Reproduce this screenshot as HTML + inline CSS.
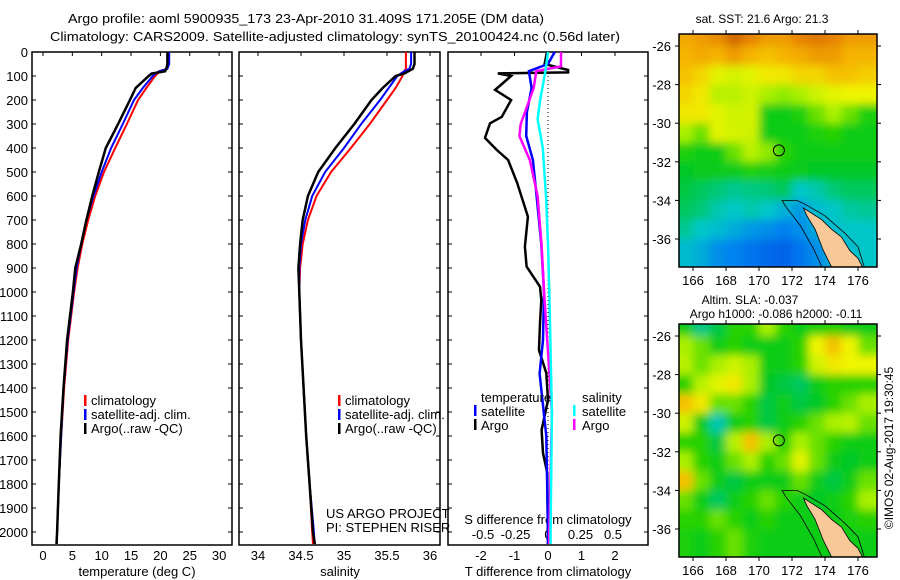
<!DOCTYPE html>
<html><head><meta charset="utf-8"><style>
body{margin:0;background:#fff}
svg{display:block;font-family:"Liberation Sans",sans-serif}
text{fill:#000}
</style></head><body>
<svg id="fig" width="900" height="580" viewBox="0 0 900 580" xmlns="http://www.w3.org/2000/svg">
<defs>
<filter id="blur" x="-0.1" y="-0.1" width="1.2" height="1.2"><feGaussianBlur stdDeviation="4.5" edgeMode="duplicate"/></filter>
<clipPath id="clipTop"><rect x="679" y="34" width="198" height="233"/></clipPath>
<clipPath id="clipBot"><rect x="679" y="324" width="198" height="233"/></clipPath>
</defs>
<text x="306" y="23" text-anchor="middle" font-size="13" textLength="476" lengthAdjust="spacingAndGlyphs">Argo profile: aoml 5900935_173 23-Apr-2010 31.409S 171.205E (DM data)</text>
<text x="335" y="41" text-anchor="middle" font-size="13" textLength="570" lengthAdjust="spacingAndGlyphs">Climatology: CARS2009. Satellite-adjusted climatology: synTS_20100424.nc (0.56d later)</text>
<g id="plots"></g>
</svg>
<script>
// ---- data ----
const depthGrid=[0,50,70,80,90,100,150,200,300,400,500,600,700,800,900,1000,1200,1400,1600,1800,2000,2050];
const tempClim=[21.3,21.3,21.0,20.0,19.5,19.1,17.6,16.2,14.3,12.3,10.4,8.9,7.7,6.7,5.9,5.3,4.3,3.6,3.1,2.7,2.4,2.35];
const tempSat=[21.5,21.5,21.2,19.8,19.2,18.7,17.0,15.5,13.6,11.6,10.0,8.6,7.4,6.5,5.7,5.2,4.2,3.5,3.1,2.7,2.4,2.35];
const tempArgo=[21.2,21.2,21.0,20.8,18.5,18.0,15.8,14.8,12.8,10.7,9.5,8.4,7.4,6.5,5.5,5.1,4.1,3.5,3.0,2.7,2.4,2.3];
const salClim=[35.72,35.72,35.72,35.7,35.69,35.68,35.6,35.5,35.3,35.08,34.85,34.68,34.58,34.52,34.49,34.48,34.5,34.53,34.56,34.6,34.63,34.64];
const salSat=[35.78,35.78,35.76,35.7,35.66,35.62,35.52,35.42,35.2,35.0,34.78,34.63,34.55,34.5,34.48,34.48,34.5,34.53,34.56,34.6,34.65,34.66];
const salArgo=[35.82,35.82,35.8,35.75,35.7,35.6,35.45,35.32,35.12,34.9,34.7,34.58,34.52,34.49,34.47,34.48,34.5,34.53,34.56,34.6,34.64,34.66];
const tdArgoDepth=[0,50,75,85,89,100,158,200,270,297,358,408,450,546,686,811,894,978,1033,1130,1242,1338,1450,1575,1671,1755,2050];
const tdArgo=[-0.03,-0.1,0.6,0.6,-1.5,-1.1,-1.58,-1.1,-1.38,-1.73,-1.88,-1.53,-1.19,-0.92,-0.6,-0.69,-0.64,-0.24,-0.2,-0.24,-0.27,-0.05,0,-0.19,-0.15,-0.02,0];
const tdSatDepth=[0,50,80,150,250,350,450,600,800,1000,1200,1340,1600,2000,2050];
const tdSat=[0.2,0.0,-0.57,-0.49,-0.63,-0.65,-0.45,-0.34,-0.2,-0.12,-0.15,-0.25,-0.05,0,0];
const sdArgoDepth=[0,60,80,150,300,350,450,600,800,1000,1500,2000,2050];
const sdArgo=[0.1,0.1,-0.09,-0.11,-0.21,-0.22,-0.14,-0.08,-0.05,-0.03,0.03,0.01,0.01];
const sdSatDepth=[0,80,200,280,400,600,800,1000,1500,2000,2050];
const sdSat=[0,-0.02,-0.06,-0.08,-0.04,-0.015,0,0.01,0.03,0.02,0.02];
const depthTicks=[0,100,200,300,400,500,600,700,800,900,1000,1100,1200,1300,1400,1500,1600,1700,1800,1900,2000];
const tempTicks=[0,5,10,15,20,25,30];
const salTicks=[34,34.5,35,35.5,36];
const tdTicks=[-2,-1,0,1,2];
const sdTicks=[-0.5,-0.25,0,0.25,0.5];
const sdTickLabels=["-0.5","-0.25","0","0.25","0.5"];
const lonTicks=[166,168,170,172,174,176];
const latTicks=[-26,-28,-30,-32,-34,-36];
const sstGrid=[
[0.82,0.85,0.88,0.95,0.9,0.85,0.85,0.9,0.92,0.9,0.85,0.85],
[0.8,0.82,0.8,0.85,0.8,0.78,0.8,0.82,0.85,0.85,0.8,0.8],
[0.78,0.75,0.68,0.66,0.68,0.72,0.72,0.75,0.75,0.78,0.78,0.76],
[0.75,0.72,0.62,0.62,0.65,0.6,0.58,0.6,0.65,0.68,0.7,0.7],
[0.72,0.72,0.68,0.65,0.66,0.45,0.45,0.48,0.55,0.6,0.55,0.48],
[0.6,0.55,0.68,0.66,0.65,0.45,0.45,0.45,0.48,0.5,0.45,0.45],
[0.48,0.45,0.45,0.55,0.62,0.58,0.5,0.45,0.45,0.45,0.45,0.45],
[0.42,0.44,0.44,0.44,0.48,0.46,0.45,0.44,0.42,0.42,0.42,0.42],
[0.4,0.38,0.36,0.34,0.35,0.36,0.38,0.3,0.32,0.36,0.38,0.38],
[0.38,0.36,0.32,0.3,0.32,0.3,0.26,0.22,0.28,0.3,0.33,0.34],
[0.34,0.3,0.28,0.25,0.22,0.2,0.18,0.2,0.25,0.28,0.3,0.3],
[0.28,0.25,0.2,0.18,0.15,0.12,0.1,0.15,0.2,0.25,0.28,0.3]];
const slaGrid=[
[0.45,0.35,0.4,0.5,0.5,0.6,0.5,0.45,0.48,0.5,0.45,0.45],
[0.6,0.55,0.45,0.5,0.45,0.45,0.45,0.5,0.7,0.78,0.7,0.55],
[0.62,0.55,0.6,0.65,0.6,0.45,0.45,0.5,0.65,0.72,0.7,0.7],
[0.5,0.62,0.68,0.72,0.6,0.42,0.4,0.38,0.45,0.5,0.5,0.5],
[0.78,0.72,0.55,0.55,0.5,0.4,0.45,0.4,0.42,0.5,0.55,0.6],
[0.65,0.45,0.32,0.45,0.5,0.4,0.45,0.5,0.55,0.6,0.62,0.55],
[0.5,0.5,0.4,0.62,0.78,0.6,0.5,0.6,0.55,0.5,0.45,0.45],
[0.6,0.5,0.45,0.55,0.6,0.5,0.55,0.68,0.55,0.45,0.42,0.45],
[0.78,0.55,0.45,0.4,0.45,0.45,0.45,0.55,0.45,0.4,0.45,0.55],
[0.55,0.45,0.38,0.45,0.5,0.55,0.5,0.45,0.42,0.45,0.5,0.6],
[0.5,0.5,0.55,0.5,0.45,0.5,0.45,0.45,0.45,0.45,0.48,0.5],
[0.48,0.45,0.5,0.55,0.48,0.45,0.45,0.45,0.45,0.45,0.45,0.45]];
const landLon=[172.7,173.8,174.4,175.0,175.5,176.0,176.3,176.5,174.6,173.9,173.4,172.9];
const landLat=[-34.4,-35.0,-35.5,-35.9,-36.6,-37.0,-37.5,-37.8,-37.8,-36.6,-35.5,-34.8];
const contourLon=[171.4,172.3,172.8,174.0,175.2,176.0,176.4,176.6,174.0,173.3,172.5,171.6];
const contourLat=[-34.0,-34.0,-34.2,-34.8,-35.7,-36.4,-37.5,-37.8,-37.8,-36.5,-35.3,-34.3];
const argoLon=171.205, argoLat=-31.409;

// ---- scales ----
const yD=d=>52+d*0.24;
const xT=v=>43+v*5.87;
const xS=v=>258+(v-34)*86;
const xTd=v=>548+v*33.5;
const xSd=v=>548+v*130;
const mX=lon=>693+(lon-166)*16.5;
const mYt=lat=>46+(-26-lat)*19.3;
const mYb=lat=>336+(-26-lat)*19.3;

const NS='http://www.w3.org/2000/svg';
const root=document.getElementById('plots');
function mk(tag,attrs,parent){const e=document.createElementNS(NS,tag);for(const k in attrs)e.setAttribute(k,attrs[k]);(parent||root).appendChild(e);return e;}
function txt(s,x,y,opt,parent){const e=mk('text',Object.assign({x:x,y:y,'font-size':13},opt||{}),parent);e.textContent=s;return e;}
function line(vals,depths,xf,color,w,name){
  const pts=vals.map((v,i)=>xf(v).toFixed(1)+','+yD(depths[i]).toFixed(1)).join(' ');
  const p=mk('polyline',{points:pts,fill:'none',stroke:color,'stroke-width':w,'stroke-linejoin':'miter'});
  
  
}
function panel(x0,x1,name){
  const g=mk('g',{});
  
  
  mk('rect',{x:x0,y:52,width:x1-x0,height:493,fill:'none',stroke:'#000','stroke-width':1.5},g);
  depthTicks.forEach(d=>{
    mk('line',{x1:x0,x2:x0+4,y1:yD(d),y2:yD(d),stroke:'#000'},g);
    mk('line',{x1:x1,x2:x1-4,y1:yD(d),y2:yD(d),stroke:'#000'},g);
  });
  return g;
}
const dl=mk('g',{});


depthTicks.forEach(d=>{txt(String(d),28,yD(d)+5,{'text-anchor':'end'},dl);});

// Panel 1 temperature
const p1=panel(32,232,'temperature-panel');
tempTicks.forEach(v=>{mk('line',{x1:xT(v),x2:xT(v),y1:52,y2:56,stroke:'#000'},p1);txt(String(v),xT(v),560,{'text-anchor':'middle'},p1);});
txt('temperature (deg C)',137,576,{'text-anchor':'middle'},p1);
line(tempClim,depthGrid,xT,'#f00',2,'temp-climatology-line');
line(tempSat,depthGrid,xT,'#00f',2,'temp-satellite-line');
line(tempArgo,depthGrid,xT,'#000',2.5,'temp-argo-line');
function legend3(x,names,g){
  const cols=['#f00','#00f','#000'];
  names.forEach((n,i)=>{mk('rect',{x:x-7,y:395+i*14,width:2.5,height:11,fill:cols[i]},g);txt(n,x,405+i*14,{},g);});
}
const lg1=mk('g',{});
legend3(91,['climatology','satellite-adj. clim.','Argo(..raw -QC)'],lg1);

// Panel 2 salinity
const p2=panel(239,440,'salinity-panel');
salTicks.forEach(v=>{mk('line',{x1:xS(v),x2:xS(v),y1:52,y2:56,stroke:'#000'},p2);txt(String(v),xS(v),560,{'text-anchor':'middle'},p2);});
txt('salinity',340,576,{'text-anchor':'middle'},p2);
line(salClim,depthGrid,xS,'#f00',2,'sal-climatology-line');
line(salSat,depthGrid,xS,'#00f',2,'sal-satellite-line');
line(salArgo,depthGrid,xS,'#000',2.5,'sal-argo-line');
const lg2=mk('g',{});
legend3(345,['climatology','satellite-adj. clim.','Argo(..raw -QC)'],lg2);
const pi=txt('US ARGO PROJECT',326,518,{},p2);
const pi2=txt('PI: STEPHEN RISER',326,532,{},p2);

// Panel 3 differences
const p3=panel(448,648,'difference-panel');
tdTicks.forEach(v=>{mk('line',{x1:xTd(v),x2:xTd(v),y1:52,y2:56,stroke:'#000'},p3);txt(String(v),xTd(v),560,{'text-anchor':'middle'},p3);});
sdTicks.forEach((v,i)=>{txt(sdTickLabels[i],xSd(v),539,{'text-anchor':'middle'},p3);});
txt('S difference from climatology',548,524,{'text-anchor':'middle'},p3);
txt('T difference from climatology',548,576,{'text-anchor':'middle'},p3);
mk('line',{x1:548,x2:548,y1:60,y2:540,stroke:'#000','stroke-dasharray':'1,3'},p3);
line(tdArgo,tdArgoDepth,xTd,'#000',2.5,'tdiff-argo-line');
line(tdSat,tdSatDepth,xTd,'#00f',2.5,'tdiff-satellite-line');
line(sdArgo,sdArgoDepth,xSd,'#f0f',2.5,'sdiff-argo-line');
line(sdSat,sdSatDepth,xSd,'#0ff',2.5,'sdiff-satellite-line');
const lg3=mk('g',{});
txt('temperature',481,402,{},lg3);txt('salinity',582,402,{},lg3);
[['satellite','#00f',474],['Argo','#000',474]].forEach((a,i)=>{mk('rect',{x:a[2],y:405+i*14,width:2.5,height:11,fill:a[1]},lg3);txt(a[0],481,416+i*14,{},lg3);});
[['satellite','#0ff',573],['Argo','#f0f',573]].forEach((a,i)=>{mk('rect',{x:a[2],y:405+i*14,width:2.5,height:11,fill:a[1]},lg3);txt(a[0],582,416+i*14,{},lg3);});

// ---- maps ----
function cmap(v){
  const s=[[0,[0,60,220]],[0.18,[0,130,240]],[0.3,[0,200,200]],[0.42,[0,200,40]],[0.5,[40,210,0]],[0.6,[170,240,0]],[0.7,[240,245,0]],[0.8,[245,180,0]],[0.9,[230,130,0]],[1,[190,80,0]]];
  for(let i=1;i<s.length;i++){if(v<=s[i][0]){const t=(v-s[i-1][0])/(s[i][0]-s[i-1][0]);const c=s[i-1][1].map((a,k)=>Math.round(a+(s[i][1][k]-a)*t));return 'rgb('+c+')';}}
  return 'rgb(190,80,0)';
}
function map(grid,yf,top,clip,name){
  const g=mk('g',{});
  
  
  const field=mk('g',{'clip-path':'url(#'+clip+')'},g);
  const fg=mk('g',{filter:'url(#blur)'},field);
  const nr=grid.length, nc=grid[0].length;
  grid.forEach((row,r)=>row.forEach((v,c)=>{
    const lon=165.5+c, lat=-25.5-r;
    let x=mX(lon-0.5), y=yf(lat+0.5), w=17, h=20;
    if(c===0){x-=20;w+=20;} if(c===nc-1){w+=20;}
    if(r===0){y-=20;h+=20;} if(r===nr-1){h+=25;}
    mk('rect',{x:x,y:y,width:w,height:h,fill:cmap(v)},fg);
  }));
  const contour=contourLon.map((lo,i)=>mX(lo).toFixed(1)+','+yf(contourLat[i]).toFixed(1)).join(' ');
  mk('polygon',{points:contour,fill:'none',stroke:'#000','stroke-width':0.8},field);
  const land=landLon.map((lo,i)=>mX(lo).toFixed(1)+','+yf(landLat[i]).toFixed(1)).join(' ');
  const lp=mk('polygon',{points:land,fill:'#f8c898',stroke:'#000','stroke-width':0.8},field);
  
  
  const ac=mk('circle',{cx:mX(argoLon),cy:yf(argoLat),r:5.5,fill:'none',stroke:'#000','stroke-width':1},g);
  
  
  mk('rect',{x:679,y:top,width:198,height:233,fill:'none',stroke:'#000','stroke-width':1.5},g);
  lonTicks.forEach(l=>{
    mk('line',{x1:mX(l),x2:mX(l),y1:top,y2:top-4,stroke:'#000'},g);
    mk('line',{x1:mX(l),x2:mX(l),y1:top+233,y2:top+237,stroke:'#000'},g);
    txt(String(l),mX(l),top+251,{'text-anchor':'middle'},g);
  });
  latTicks.forEach(l=>{
    mk('line',{x1:679,x2:675,y1:yf(l),y2:yf(l),stroke:'#000'},g);
    mk('line',{x1:877,x2:881,y1:yf(l),y2:yf(l),stroke:'#000'},g);
    txt(String(l),671,yf(l)+5,{'text-anchor':'end'},g);
  });
  return g;
}
const m1=map(sstGrid,mYt,34,'clipTop','sst-map');
txt('sat. SST: 21.6  Argo: 21.3',762,23,{'text-anchor':'middle','font-size':12},m1);
const m2=map(slaGrid,mYb,324,'clipBot','sla-map');
txt('Altim. SLA: -0.037',750,304,{'text-anchor':'middle','font-size':12},m2);
txt('Argo h1000: -0.086 h2000: -0.11',776,318,{'text-anchor':'middle','font-size':12},m2);
const cr=txt('©IMOS 02-Aug-2017 19:30:45',0,0,{'text-anchor':'middle','font-size':12,transform:'translate(893,448) rotate(-90)'});


</script>
</body></html>
